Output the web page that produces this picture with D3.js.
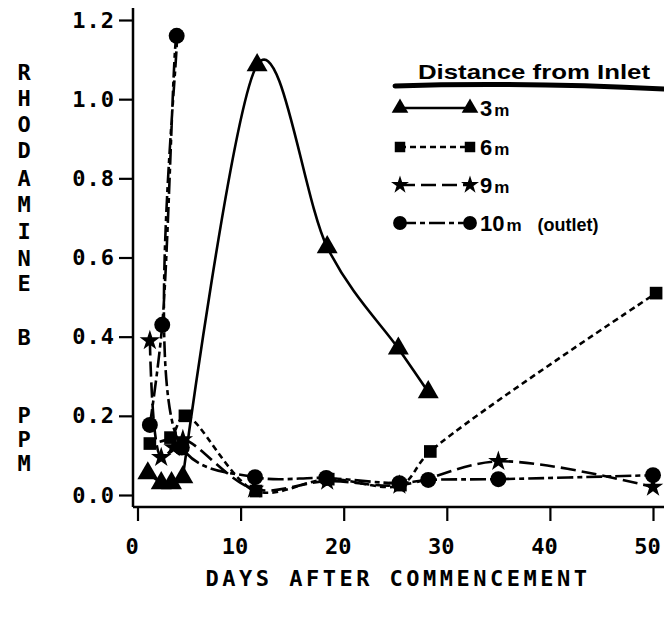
<!DOCTYPE html>
<html>
<head>
<meta charset="utf-8">
<script src="https://cdn.jsdelivr.net/npm/d3@7"></script>
<style>
  body { margin: 0; background: white; }
  svg { display: block; }
  text { fill: black; }
</style>
</head>
<body>
<div id="chart"></div>
<script>
// values
const days_3m  = [1.0, 2.3, 3.3, 4.4, 11.6, 18.4, 25.3, 28.2]
const ppm_3m   = [0.055, 0.03, 0.03, 0.045, 1.086, 0.626, 0.37, 0.26]

const days_6m  = [1.2, 3.2, 4.6, 11.5, 18.5, 25.5, 28.4, 50.3]
const ppm_6m   = [0.13, 0.145, 0.2, 0.01, 0.04, 0.025, 0.11, 0.51]

const days_9m  = [1.2, 2.3, 3.5, 4.4, 11.3, 18.4, 25.4, 35.0, 50.0]
const ppm_9m   = [0.39, 0.095, 0.12, 0.14, 0.015, 0.035, 0.025, 0.085, 0.02]

const days_10m = [1.2, 2.4, 3.8, 4.3, 11.4, 18.3, 25.4, 28.2, 35.0, 50.0]
const ppm_10m  = [0.177, 0.43, 1.16, 0.12, 0.045, 0.043, 0.03, 0.038, 0.04, 0.05]

const xTicks = [0, 10, 20, 30, 40, 50]
const yTicks = [0.0, 0.2, 0.4, 0.6, 0.8, 1.0, 1.2]
const legendLabels = ['3', '6', '9', '10']

const W = 664, H = 619
const plotFont = "'DejaVu Sans Mono', monospace"
const legendFont = "'Liberation Sans', Arial, sans-serif"

let svg = d3.select('#chart').append('svg').attr('width', W).attr('height', H)

let x = d3.scaleLinear().domain([0, 50]).range([137.5, 653])
let y = d3.scaleLinear().domain([0, 1.2]).range([495, 20])

// axes ---------------------------------------------------------------
let axisX0 = 133, axisY0 = 507

// minor y ticks every 0.04, minor x ticks every day
let yMinor = d3.range(0, 1.2001, 0.04).filter(v => Math.abs(v / 0.2 - Math.round(v / 0.2)) > 1e-6)
let gy = svg.append('g').attr('transform', 'translate(' + axisX0 + ',0)')
gy.call(d3.axisLeft(y).tickValues(yMinor).tickSize(7).tickFormat(''))
gy.call(d3.axisLeft(y).tickValues(yTicks).tickSize(14).tickPadding(4).tickFormat(d3.format('.1f')))
gy.selectAll('.domain').remove()
gy.selectAll('line').attr('stroke', 'black').attr('stroke-width', 2.2)
gy.selectAll('text').attr('font-family', plotFont).attr('font-size', 22).attr('font-weight', 'bold')
  .attr('letter-spacing', 1)

let xMinor = d3.range(0, 52, 1).filter(d => d % 10 !== 0)
let gx = svg.append('g').attr('transform', 'translate(0,' + axisY0 + ')')
gx.call(d3.axisBottom(x).tickValues(xMinor).tickSize(7).tickFormat(''))
gx.call(d3.axisBottom(x).tickValues(xTicks).tickSize(14).tickPadding(17).tickFormat(d3.format('d')))
gx.selectAll('.domain').remove()
gx.selectAll('line').attr('stroke', 'black').attr('stroke-width', 2.2)
gx.selectAll('text').attr('font-family', plotFont).attr('font-size', 22).attr('font-weight', 'bold')
  .attr('dx', -6)

svg.append('line').attr('x1', axisX0).attr('x2', axisX0).attr('y1', 8).attr('y2', axisY0)
  .attr('stroke', 'black').attr('stroke-width', 2.5)
svg.append('line').attr('x1', axisX0).attr('x2', W).attr('y1', axisY0).attr('y2', axisY0)
  .attr('stroke', 'black').attr('stroke-width', 2.5)

// axis titles
svg.append('text').attr('x', 398).attr('y', 586).attr('text-anchor', 'middle')
  .attr('font-family', plotFont).attr('font-size', 22).attr('font-weight', 'bold').attr('letter-spacing', 3.5)
  .text('DAYS AFTER COMMENCEMENT')

let ytitle = [['R', 72], ['H', 98], ['O', 124], ['D', 150], ['A', 178], ['M', 204], ['I', 231], ['N', 258], ['E', 283],
              ['B', 337], ['P', 415], ['P', 439], ['M', 463]]
svg.append('g').selectAll('text').data(ytitle).enter().append('text')
  .attr('x', 24).attr('y', d => d[1]).attr('dy', '0.36em').attr('text-anchor', 'middle')
  .attr('font-family', plotFont).attr('font-size', 22).attr('font-weight', 'bold')
  .text(d => d[0])

// series -------------------------------------------------------------
// smoothFrom: points before this index are joined by straight segments (the tangled start cluster)
let series = [
  { days: days_3m,  ppm: ppm_3m,  dash: null,       alpha: 0,   smoothFrom: 3, sym: d3.symbolTriangle, size: 190, lsize: 120 },
  { days: days_6m,  ppm: ppm_6m,  dash: '6,4',      alpha: 0.5, smoothFrom: 0, sym: d3.symbolSquare,   size: 160, lsize: 110 },
  { days: days_9m,  ppm: ppm_9m,  dash: '15,6',     alpha: 0.5, smoothFrom: 0, sym: d3.symbolStar,     size: 130, lsize: 100 },
  { days: days_10m, ppm: ppm_10m, dash: '16,4,5,4', alpha: 0.5, smoothFrom: 0, sym: d3.symbolCircle,   size: 200, lsize: 150 }
]

series.forEach(s => {
  let pts = s.days.map((d, i) => [d, s.ppm[i]])
  let smooth = d3.line().x(d => x(d[0])).y(d => y(d[1])).curve(d3.curveCatmullRom.alpha(s.alpha))
  let straight = d3.line().x(d => x(d[0])).y(d => y(d[1]))
  let parts = s.smoothFrom > 0
    ? [straight(pts.slice(0, s.smoothFrom + 1)), smooth(pts.slice(s.smoothFrom))]
    : [smooth(pts)]
  svg.append('path')
    .attr('d', parts.join(''))
    .attr('fill', 'none').attr('stroke', 'black').attr('stroke-width', 2.6)
    .attr('stroke-dasharray', s.dash)
  svg.append('g').selectAll('path').data(pts).enter().append('path')
    .attr('d', d3.symbol().type(s.sym).size(s.size))
    .attr('transform', d => 'translate(' + x(d[0]) + ',' + y(d[1]) + ')')
    .attr('fill', 'black')
})

// legend ---------------------------------------------------------------
let lg = svg.append('g')
lg.append('text').attr('x', 418).attr('y', 79)
  .attr('font-family', legendFont).attr('font-weight', 'bold')
  .attr('font-size', 21).attr('textLength', 232).attr('lengthAdjust', 'spacingAndGlyphs')
  .text('Distance from Inlet')
lg.append('path').attr('d', 'M395,86 Q520,82 664,89')
  .attr('fill', 'none').attr('stroke', 'black').attr('stroke-width', 5).attr('stroke-linecap', 'round')

let rowY = [108, 147, 185, 223]
series.forEach((s, i) => {
  let ry = rowY[i]
  lg.append('line').attr('x1', 400).attr('x2', 470).attr('y1', ry).attr('y2', ry)
    .attr('stroke', 'black').attr('stroke-width', 2.6).attr('stroke-dasharray', s.dash)
  ;[400, 470].forEach(px => {
    lg.append('path').attr('d', d3.symbol().type(s.sym).size(s.lsize))
      .attr('transform', 'translate(' + px + ',' + ry + ')').attr('fill', 'black')
  })
  let t = lg.append('text').attr('x', 480).attr('y', ry + 8)
    .attr('font-family', legendFont).attr('font-weight', 'bold')
  t.append('tspan').attr('font-size', 22).text(legendLabels[i])
  t.append('tspan').attr('font-size', 17).attr('dx', 2).text('m')
  if (i === 3) t.append('tspan').attr('font-size', 18).attr('dx', 16).text('(outlet)')
})
</script>
</body>
</html>
